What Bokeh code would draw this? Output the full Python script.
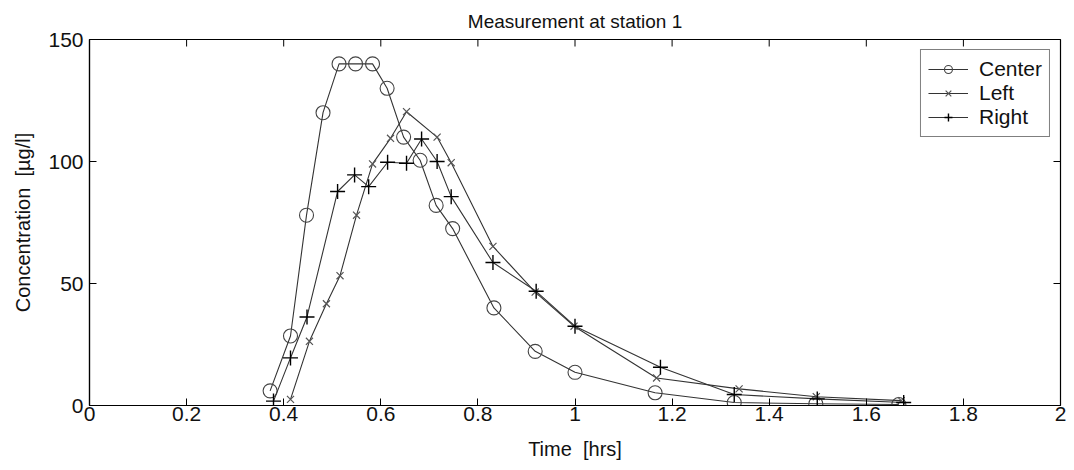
import math
from bokeh.plotting import figure
from bokeh.models import FixedTicker, CustomJSTickFormatter, Range1d, Legend
from bokeh.embed import file_html
from bokeh.resources import INLINE

center_x = [0.372, 0.414, 0.447, 0.481, 0.514, 0.548, 0.583, 0.613, 0.647, 0.681, 0.714, 0.748, 0.833, 0.918, 1.0, 1.165, 1.328, 1.496, 1.667]
center_y = [6.0, 28.5, 78.0, 120.0, 140.0, 140.0, 140.0, 130.0, 110.0, 100.5, 82.0, 72.5, 40.0, 22.2, 13.6, 5.2, 1.2, 0.7, 0.4]

left_x = [0.414, 0.453, 0.488, 0.516, 0.550, 0.583, 0.620, 0.653, 0.716, 0.745, 0.831, 0.918, 0.998, 1.168, 1.338, 1.497, 1.672]
left_y = [2.5, 26.3, 41.7, 53.2, 78.0, 99.0, 109.5, 120.4, 110.0, 99.5, 65.2, 46.5, 32.5, 11.3, 6.8, 3.6, 2.0]

right_x = [0.379, 0.414, 0.448, 0.511, 0.546, 0.575, 0.614, 0.653, 0.684, 0.716, 0.745, 0.831, 0.920, 1.0, 1.176, 1.328, 1.499, 1.677]
right_y = [1.8, 19.5, 36.3, 87.7, 94.5, 89.7, 99.7, 99.3, 109.2, 100.0, 85.6, 58.6, 46.8, 32.5, 15.7, 4.5, 2.7, 1.2]

x_ticks = [0, 0.2, 0.4, 0.6, 0.8, 1.0, 1.2, 1.4, 1.6, 1.8, 2.0]
y_ticks = [0, 50, 100, 150]
X_MIN, X_MAX = 0, 2
Y_MIN, Y_MAX = 0, 150

FONT = "Liberation Sans"
TXT = "#111111"

p = figure(width=1066, height=462, output_backend="svg", toolbar_location=None,
           x_range=Range1d(X_MIN, X_MAX), y_range=Range1d(Y_MIN, Y_MAX),
           min_border_left=89, min_border_right=6, min_border_top=39, min_border_bottom=56,
           title="Measurement at station 1")
p.title.align = "center"
p.title.text_font = FONT
p.title.text_font_size = "19px"
p.title.text_font_style = "normal"
p.title.text_color = TXT
p.title.standoff = 16

p.grid.visible = False
p.outline_line_color = "black"
p.outline_line_width = 1.2
p.background_fill_color = "white"
p.border_fill_color = "white"

fmt = CustomJSTickFormatter(code="return Number(tick.toFixed(2)).toString();")

for ax, ticks in ((p.xaxis[0], x_ticks), (p.yaxis[0], y_ticks)):
    ax.ticker = FixedTicker(ticks=ticks)
    ax.formatter = fmt
    ax.major_tick_in = 7
    ax.major_tick_out = 0
    ax.minor_tick_line_color = None
    ax.axis_line_color = "black"
    ax.axis_line_width = 1.2
    ax.major_tick_line_color = "black"
    ax.major_label_text_font = FONT
    ax.major_label_text_font_size = "21px"
    ax.major_label_text_color = TXT
    ax.axis_label_text_font = FONT
    ax.axis_label_text_font_size = "20px"
    ax.axis_label_text_font_style = "normal"
    ax.axis_label_text_color = TXT

p.xaxis.axis_label = "Time \u00a0[hrs]"
p.yaxis.axis_label = "Concentration \u00a0[µg/l]"
p.xaxis.major_label_standoff = 1
p.yaxis.major_label_standoff = 6
p.xaxis.axis_label_standoff = 14
p.yaxis.axis_label_standoff = 11

# mirrored inward ticks on the top and right frame edges
p.ray(x=x_ticks, y=[Y_MAX] * len(x_ticks), length=7, length_units="screen",
      angle=-math.pi / 2, line_color="black", line_width=1)
p.ray(x=[X_MAX] * len(y_ticks), y=y_ticks, length=7, length_units="screen",
      angle=math.pi, line_color="black", line_width=1)

LINE = "#333333"
lc = p.line(center_x, center_y, line_color=LINE, line_width=1.1)
sc = p.scatter(center_x, center_y, marker="circle", size=14, fill_color=None,
               line_color="#444444", line_width=1.1)
ll = p.line(left_x, left_y, line_color=LINE, line_width=1.1)
sl = p.scatter(left_x, left_y, marker="x", size=10, line_color="#555555", line_width=1.2)
lr = p.line(right_x, right_y, line_color=LINE, line_width=1.1)
sr = p.scatter(right_x, right_y, marker="cross", size=15, line_color="#000000", line_width=1.4)

legend = Legend(items=[("Center", [lc, sc]), ("Left", [ll, sl]), ("Right", [lr, sr])],
                location="top_right", margin=10, padding=7, spacing=-2,
                label_text_font=FONT, label_text_font_size="21px", label_text_color=TXT,
                label_height=20,
                glyph_width=40, glyph_height=20, label_standoff=11,
                border_line_color="black", border_line_width=1.2,
                background_fill_alpha=1.0)
p.add_layout(legend, "center")

open("out.html", "w").write(file_html(p, INLINE))
